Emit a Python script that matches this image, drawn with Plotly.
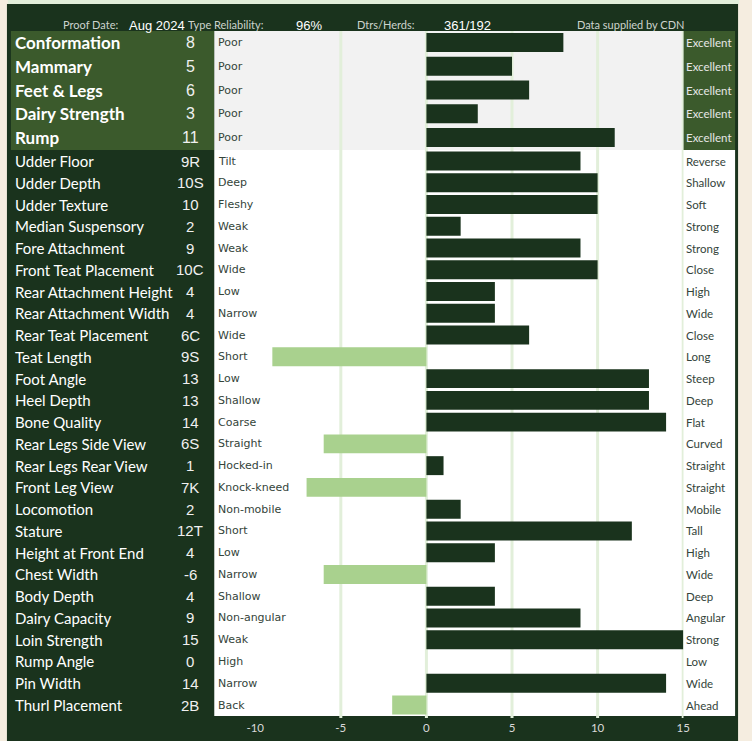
import plotly.graph_objects as go

W, H = 752, 741

# ---------------- data ----------------
summary_names = ["Conformation", "Mammary", "Feet & Legs", "Dairy Strength", "Rump"]
summary_values = [8, 5, 6, 3, 11]
summary_labels = ["8", "5", "6", "3", "11"]
summary_low = ["Poor"] * 5
summary_high = ["Excellent"] * 5

trait_names = ["Udder Floor", "Udder Depth", "Udder Texture", "Median Suspensory",
               "Fore Attachment", "Front Teat Placement", "Rear Attachment Height",
               "Rear Attachment Width", "Rear Teat Placement", "Teat Length",
               "Foot Angle", "Heel Depth", "Bone Quality", "Rear Legs Side View",
               "Rear Legs Rear View", "Front Leg View", "Locomotion", "Stature",
               "Height at Front End", "Chest Width", "Body Depth", "Dairy Capacity",
               "Loin Strength", "Rump Angle", "Pin Width", "Thurl Placement"]
trait_labels = ["9R", "10S", "10", "2", "9", "10C", "4", "4", "6C", "9S",
                "13", "13", "14", "6S", "1", "7K", "2", "12T", "4", "-6",
                "4", "9", "15", "0", "14", "2B"]
trait_values = [9, 10, 10, 2, 9, 10, 4, 4, 6, -9,
                13, 13, 14, -6, 1, -7, 2, 12, 4, -6,
                4, 9, 15, 0, 14, -2]
trait_low = ["Tilt", "Deep", "Fleshy", "Weak", "Weak", "Wide", "Low", "Narrow", "Wide",
             "Short", "Low", "Shallow", "Coarse", "Straight", "Hocked-in", "Knock-kneed",
             "Non-mobile", "Short", "Low", "Narrow", "Shallow", "Non-angular", "Weak",
             "High", "Narrow", "Back"]
trait_high = ["Reverse", "Shallow", "Soft", "Strong", "Strong", "Close", "High", "Wide",
              "Close", "Long", "Steep", "Deep", "Flat", "Curved", "Straight", "Straight",
              "Mobile", "Tall", "High", "Wide", "Deep", "Angular", "Strong", "Low",
              "Wide", "Ahead"]

x_ticks = [-10, -5, 0, 5, 10, 15]
grid_vals = [-5, 0, 5, 10, 15]

header_labels = ["Proof Date:", "Type Reliability:", "Dtrs/Herds:"]
header_values = ["Aug 2024", "96%", "361/192"]
header_note = "Data supplied by CDN"

# ---------------- styling ----------------
DARK = "#1a331d"
MID = "#3b5a2c"
LIGHTBAR = "#a9d18e"
GRID = "#e2efda"
BEIGE = "#f5ede0"
GREY = "#f2f2f2"
DESC = "#34443a"


def px(x):
    return x / W


def py(y):
    return 1 - y / H


def colors(vals):
    return [DARK if v >= 0 else LIGHTBAR for v in vals]


fig = go.Figure()
fig.add_trace(go.Bar(y=summary_names, x=summary_values, orientation="h",
                     marker=dict(color=colors(summary_values), line=dict(width=0)),
                     width=0.79, xaxis="x", yaxis="y"))
fig.add_trace(go.Bar(y=trait_names, x=trait_values, orientation="h",
                     marker=dict(color=colors(trait_values), line=dict(width=0)),
                     width=0.87, xaxis="x", yaxis="y2"))

shapes = []


def rect(x0, y0, x1, y1, color):
    shapes.append(dict(type="rect", xref="paper", yref="paper",
                       x0=px(x0), x1=px(x1), y0=py(y1), y1=py(y0),
                       fillcolor=color, line=dict(width=0), layer="below"))


rect(8, 0, 745, 4, GRID)
rect(7, 4, 744, 741, DARK)
rect(11, 31, 216, 150, MID)
rect(216, 31, 689, 150, GREY)
rect(689, 31, 741, 150, MID)
rect(216, 150, 741, 716, "white")
for g in grid_vals:
    shapes.append(dict(type="line", xref="x", yref="paper", x0=g, x1=g,
                       y0=py(718), y1=py(31), line=dict(color=GRID, width=3),
                       layer="below"))

ann = []
LATO = "Lato, 'Open Sans', sans-serif"
ARIAL = "'Liberation Sans', Arial, sans-serif"
VERD = "'DejaVu Sans', Verdana, sans-serif"

for n, lab, lo, hi in zip(summary_names, summary_labels, summary_low, summary_high):
    ann.append(dict(x=px(13), y=n, xref="paper", yref="y", text="<b>%s</b>" % n,
                    xanchor="left", showarrow=False,
                    font=dict(family=LATO, size=17, color="white")))
    ann.append(dict(x=px(192), y=n, xref="paper", yref="y", text=lab,
                    xanchor="center", showarrow=False,
                    font=dict(family=ARIAL, size=16, color="#f0f0f0")))
    ann.append(dict(x=px(218), y=n, xref="paper", yref="y", text=lo,
                    xanchor="left", showarrow=False,
                    font=dict(family=VERD, size=11, color=DESC)))
    ann.append(dict(x=px(690), y=n, xref="paper", yref="y", text=hi,
                    xanchor="left", showarrow=False,
                    font=dict(family=LATO, size=11.5, color="#e6e6e6")))

for n, lab, lo, hi in zip(trait_names, trait_labels, trait_low, trait_high):
    ann.append(dict(x=px(13), y=n, xref="paper", yref="y2", text=n,
                    xanchor="left", showarrow=False,
                    font=dict(family=LATO, size=15, color="white")))
    ann.append(dict(x=px(192), y=n, xref="paper", yref="y2", text=lab,
                    xanchor="center", showarrow=False,
                    font=dict(family=ARIAL, size=15, color="#f0f0f0")))
    ann.append(dict(x=px(218), y=n, xref="paper", yref="y2", text=lo,
                    xanchor="left", showarrow=False,
                    font=dict(family=VERD, size=11, color=DESC)))
    ann.append(dict(x=px(690), y=n, xref="paper", yref="y2", text=hi,
                    xanchor="left", showarrow=False,
                    font=dict(family=LATO, size=11.5, color=DESC)))

# header
label_right = [121, 268, 420]
value_x = [(128, "left"), (311, "center"), (446, "left")]
for lab, val, xl, (xv, anc) in zip(header_labels, header_values, label_right, value_x):
    ann.append(dict(x=px(xl), y=py(16), xref="paper", yref="paper", text=lab,
                    xanchor="right", showarrow=False,
                    font=dict(family=LATO, size=11, color="#cdd3cd")))
    ann.append(dict(x=px(xv), y=py(16), xref="paper", yref="paper", text=val,
                    xanchor=anc, showarrow=False,
                    font=dict(family=ARIAL, size=13, color="white")))
ann.append(dict(x=px(580), y=py(16), xref="paper", yref="paper", text=header_note,
                xanchor="left", showarrow=False,
                font=dict(family=LATO, size=11, color="#cdd3cd")))

zero_px = 430
unit = 17.27
x_range = [(217 - zero_px) / unit, (689 - zero_px) / unit + 0.02]

fig.update_layout(
    width=W, height=H,
    margin=dict(l=0, r=0, t=0, b=0),
    paper_bgcolor=BEIGE, plot_bgcolor="rgba(0,0,0,0)",
    showlegend=False, barmode="overlay", hovermode=False,
    shapes=shapes, annotations=ann,
    xaxis=dict(domain=[px(217), px(689)], range=x_range, anchor="y2",
               tickvals=x_ticks, ticktext=[str(t) for t in x_ticks],
               showgrid=False, zeroline=False, showline=False, ticks="",
               ticklabelstandoff=3,
               tickfont=dict(family=LATO, size=11.5, color="#d9d9d9"),
               fixedrange=True),
    yaxis=dict(domain=[py(150), py(30)], anchor="x", autorange="reversed",
               showticklabels=False, showgrid=False, zeroline=False,
               type="category", fixedrange=True),
    yaxis2=dict(domain=[py(716), py(150)], anchor="x", autorange="reversed",
                showticklabels=False, showgrid=False, zeroline=False,
                type="category", fixedrange=True),
)

# remove the browser's default page margin so the figure sits at the window's corner
fig.write_html("out.html",
               config={"displayModeBar": False},
               post_script="document.body.style.margin='0';"
                           "document.body.style.overflow='hidden';")
